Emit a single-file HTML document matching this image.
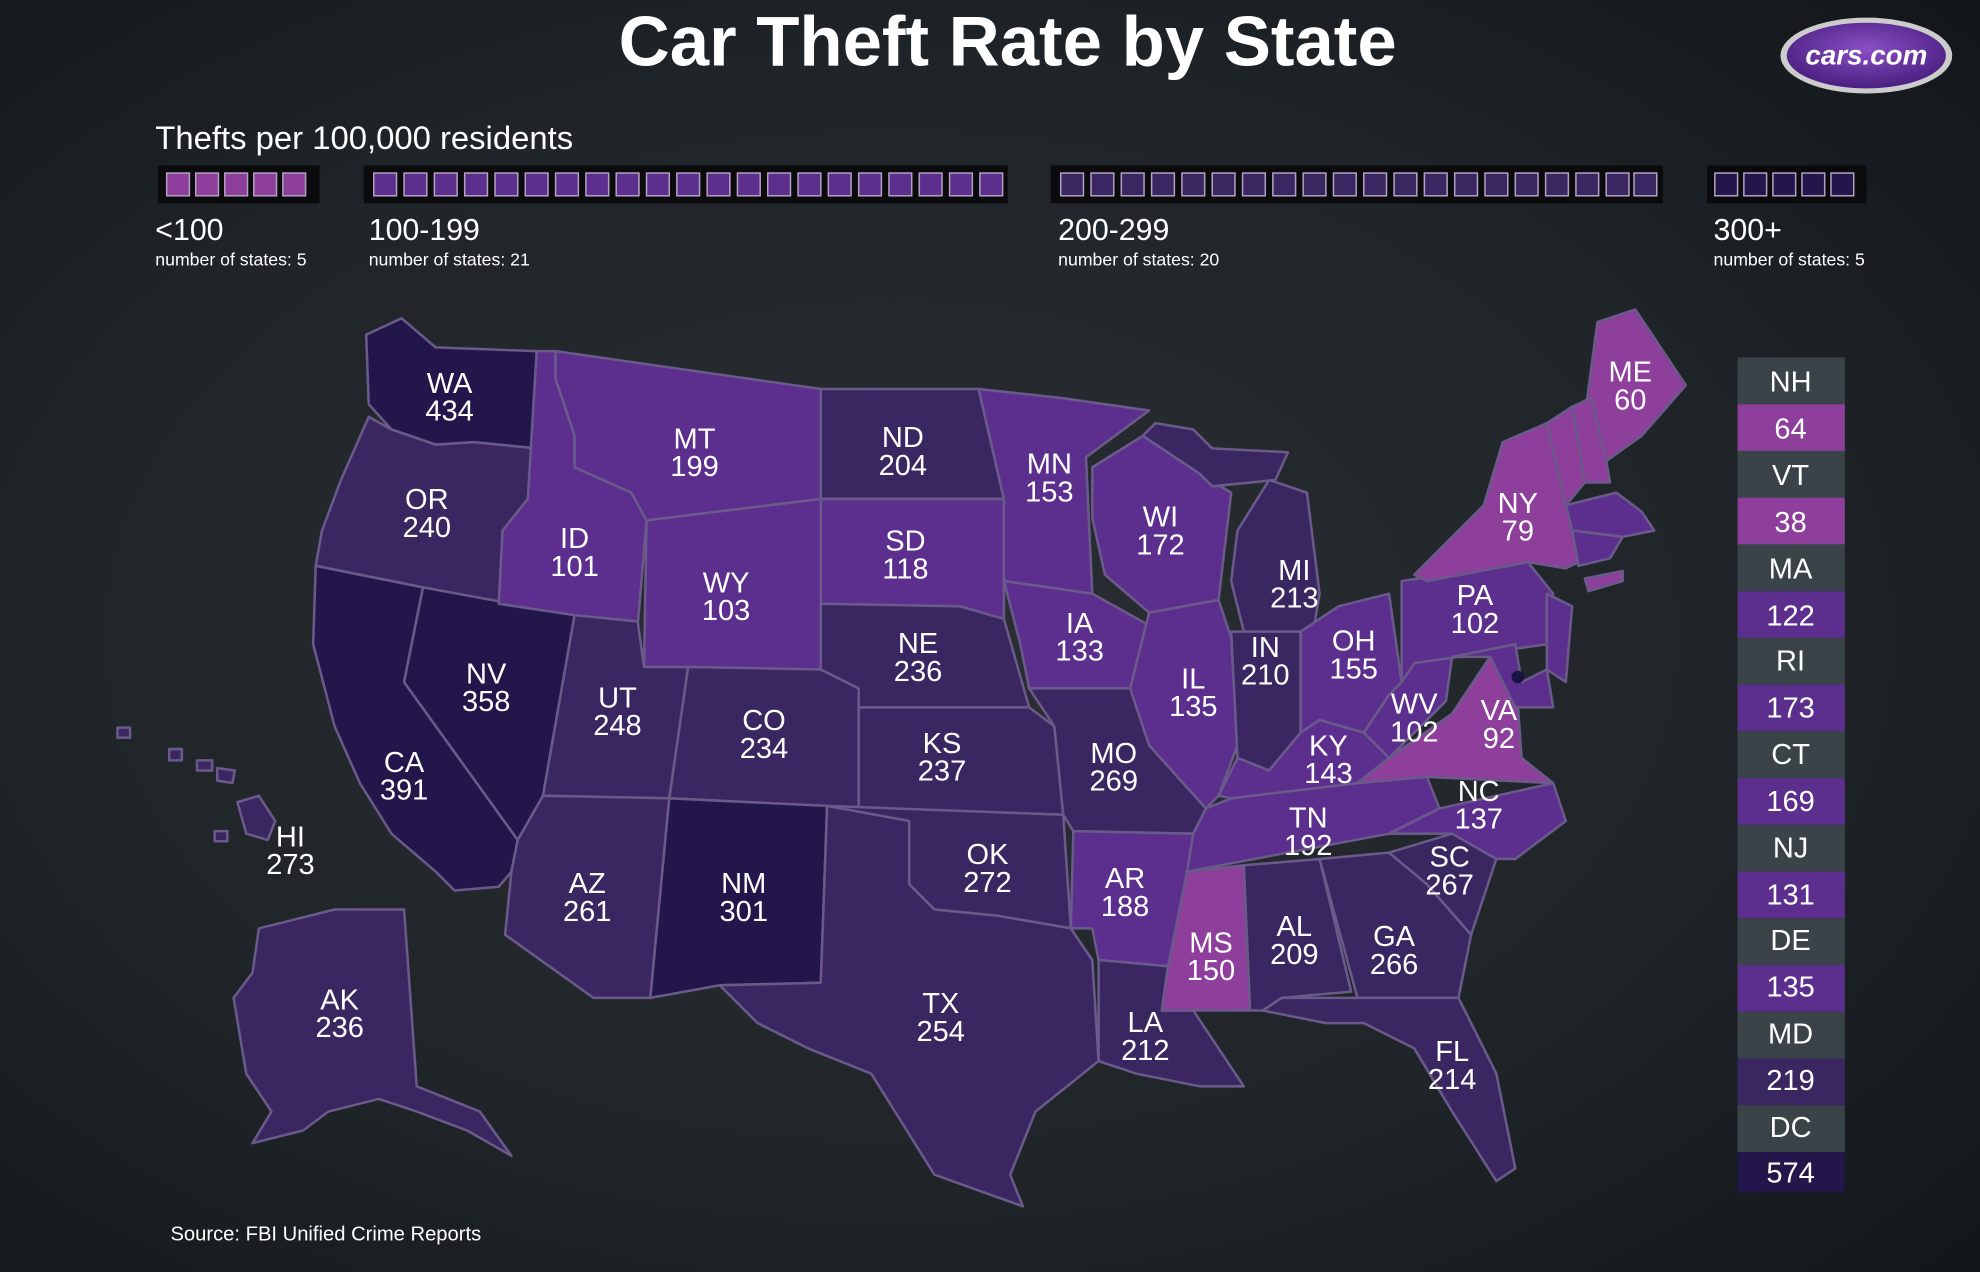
<!DOCTYPE html>
<html><head><meta charset="utf-8"><style>
html,body{margin:0;padding:0;background:#15191c;}
svg{display:block;}
text{font-family:"Liberation Sans",sans-serif;fill:#fff;}
</style></head><body>
<svg width="1980" height="1272" viewBox="0 0 1568 1007" preserveAspectRatio="none">
<defs>
<radialGradient id="bg" cx="0.45" cy="0.5" r="0.75">
<stop offset="0" stop-color="#2b2f35"/><stop offset="0.6" stop-color="#1f2428"/><stop offset="1" stop-color="#121619"/>
</radialGradient>
<radialGradient id="logo" cx="0.5" cy="0.4" r="0.6">
<stop offset="0" stop-color="#8a4fc4"/><stop offset="1" stop-color="#4a1f80"/>
</radialGradient>
</defs>
<rect width="1568" height="1007" fill="url(#bg)"/>
<text x="798" y="52" text-anchor="middle" font-size="56" font-weight="bold">Car Theft Rate by State</text>
<ellipse cx="1478" cy="44" rx="68" ry="30" fill="#ccc"/>
<ellipse cx="1478" cy="44" rx="63" ry="26" fill="url(#logo)"/>
<text x="1478" y="51" text-anchor="middle" font-size="22" font-weight="bold" font-style="italic">cars.com</text>
<text x="123" y="118" font-size="26">Thefts per 100,000 residents</text>
<g stroke="#b9a9c9" stroke-width="1.5">
<rect x="125" y="131" width="128" height="30" fill="#0b0b0e" stroke="none"/>
<rect x="288" y="131" width="510" height="30" fill="#0b0b0e" stroke="none"/>
<rect x="832" y="131" width="485" height="30" fill="#0b0b0e" stroke="none"/>
<rect x="1352" y="131" width="126" height="30" fill="#0b0b0e" stroke="none"/>
</g>
<g id="sq"></g>
<text x="123" y="190" font-size="24">&lt;100</text>
<text x="123" y="210" font-size="14">number of states: 5</text>
<text x="292" y="190" font-size="24">100-199</text>
<text x="292" y="210" font-size="14">number of states: 21</text>
<text x="838" y="190" font-size="24">200-299</text>
<text x="838" y="210" font-size="14">number of states: 20</text>
<text x="1357" y="190" font-size="24">300+</text>
<text x="1357" y="210" font-size="14">number of states: 5</text>

<g stroke="#6a5a8a" stroke-width="2" stroke-linejoin="round">
<!-- 300+ #22164a, 200-299 #3a2762, 100-199 #5c2f8e, <100 #8e3f9c -->
<polygon fill="#22164a" points="290,265 318,252 345,275 425,278 425,355 375,350 345,352 310,340 292,320"/>
<polygon fill="#3a2762" points="292,330 310,340 345,352 375,350 425,355 418,395 398,420 395,478 335,465 250,448 255,420 270,380"/>
<polygon fill="#22164a" points="250,448 335,465 320,540 410,665 405,690 395,702 360,705 345,690 310,660 285,620 265,575 248,510"/>
<polygon fill="#22164a" points="335,465 455,487 430,630 410,665 320,540"/>
<polygon fill="#5c2f8e" points="425,278 440,278 440,300 455,345 455,370 500,390 512,412 505,495 455,487 395,478 398,420 418,395"/>
<polygon fill="#5c2f8e" points="440,278 650,308 650,395 512,412 500,390 455,370 455,345 440,300"/>
<polygon fill="#5c2f8e" points="512,412 650,395 650,530 510,528"/>
<polygon fill="#3a2762" points="455,487 505,492 510,528 545,528 530,632 430,630"/>
<polygon fill="#3a2762" points="545,528 650,530 680,545 680,640 530,632"/>
<polygon fill="#3a2762" points="430,630 530,632 515,790 470,790 400,740 405,690 410,665"/>
<polygon fill="#22164a" points="530,632 655,638 650,778 570,780 515,790"/>
<polygon fill="#3a2762" points="650,308 775,308 795,395 650,395"/>
<polygon fill="#5c2f8e" points="650,395 795,395 795,490 760,480 650,478"/>
<polygon fill="#3a2762" points="650,478 760,480 795,490 815,560 680,560 680,545 650,530"/>
<polygon fill="#3a2762" points="680,560 815,560 835,575 842,645 680,640"/>
<polygon fill="#3a2762" points="655,638 842,645 848,735 790,725 740,720 720,700 720,650"/>
<polygon fill="#3a2762" points="650,778 655,638 720,650 720,700 740,720 790,725 848,735 865,760 870,840 820,880 800,930 810,955 740,930 690,850 640,830 600,810 570,780"/>
<polygon fill="#5c2f8e" points="775,308 840,315 910,325 860,362 865,470 795,460 795,395"/>
<polygon fill="#5c2f8e" points="795,460 865,470 910,495 895,545 815,545 808,510"/>
<polygon fill="#3a2762" points="815,545 895,545 910,590 955,640 945,660 850,658 842,645 835,575"/>
<polygon fill="#5c2f8e" points="850,658 945,660 940,700 925,765 870,760 865,735 848,735"/>
<polygon fill="#3a2762" points="870,760 925,765 920,800 945,800 985,860 950,860 900,850 870,840"/>
<polygon fill="#5c2f8e" points="865,370 905,345 950,375 975,390 965,475 910,485 875,455 865,410"/>
<polygon fill="#5c2f8e" points="910,485 965,475 975,505 980,590 965,630 955,640 910,590 895,545"/>
<polygon fill="#3a2762" points="905,345 915,335 945,340 960,355 1020,358 1010,380 960,385 950,375"/>
<polygon fill="#3a2762" points="980,420 1005,380 1035,390 1045,470 1040,500 985,500 975,460"/>
<polygon fill="#3a2762" points="975,500 1030,500 1030,580 1005,610 980,600"/>
<polygon fill="#5c2f8e" points="1030,500 1060,480 1100,470 1110,540 1080,580 1045,570 1030,580"/>
<polygon fill="#5c2f8e" points="965,630 980,600 1005,610 1030,580 1045,570 1080,580 1100,600 1075,620 1040,625 975,632"/>
<polygon fill="#5c2f8e" points="945,660 955,640 975,632 1075,620 1130,615 1140,640 1100,660 940,690"/>
<polygon fill="#8e3f9c" points="940,690 985,685 990,800 945,800 920,800 925,765"/>
<polygon fill="#3a2762" points="985,685 1045,680 1070,785 1015,790 1000,800 990,800"/>
<polygon fill="#3a2762" points="1045,680 1100,675 1130,700 1165,740 1155,790 1075,790"/>
<polygon fill="#3a2762" points="1000,800 1015,790 1075,790 1155,790 1185,850 1200,925 1185,935 1150,880 1120,830 1080,810 1050,810"/>
<polygon fill="#3a2762" points="1100,675 1150,660 1185,680 1165,740 1130,700"/>
<polygon fill="#5c2f8e" points="1100,660 1140,640 1230,620 1240,650 1200,680 1185,680 1150,660"/>
<polygon fill="#8e3f9c" points="1075,620 1100,600 1150,565 1180,520 1200,530 1205,600 1230,620 1130,615"/>
<polygon fill="#5c2f8e" points="1080,580 1100,550 1110,540 1120,520 1150,520 1145,555 1100,600"/>
<polygon fill="#5c2f8e" points="1110,460 1210,445 1230,470 1225,510 1120,525 1110,540"/>
<polygon fill="#8e3f9c" points="1120,455 1175,400 1190,350 1225,335 1240,400 1245,420 1250,445 1240,450 1210,445 1130,460"/>
<polygon fill="#8e3f9c" points="1265,255 1295,245 1335,305 1300,345 1272,365 1255,330"/>
<polygon fill="#8e3f9c" points="1225,335 1245,322 1255,382 1240,400"/>
<polygon fill="#8e3f9c" points="1245,322 1260,315 1272,365 1275,382 1255,382"/>
<polygon fill="#5c2f8e" points="1240,400 1280,390 1300,405 1310,420 1285,425 1245,420"/>
<polygon fill="#5c2f8e" points="1245,420 1285,425 1275,442 1250,448"/>
<polygon fill="#8e3f9c" points="1255,458 1285,452 1285,460 1258,468"/>
<polygon fill="#5c2f8e" points="1225,470 1245,480 1240,540 1225,530"/>
<polygon fill="#5c2f8e" points="1150,520 1200,510 1205,540 1225,530 1230,560 1200,560 1180,520"/>
<polygon fill="#3a2762" points="205,735 265,720 320,720 330,860 380,880 405,915 370,895 330,880 300,870 260,880 240,895 200,905 215,880 195,850 185,790 200,770"/>
<polygon fill="#3a2762" points="188,635 205,630 218,650 212,665 195,660"/>
<polygon fill="#3a2762" points="93,576 103,576 103,584 93,584"/>
<polygon fill="#3a2762" points="134,593 144,593 144,602 134,602"/>
<polygon fill="#3a2762" points="156,602 168,602 168,610 156,610"/>
<polygon fill="#3a2762" points="172,608 186,610 184,620 172,618"/>
<polygon fill="#3a2762" points="170,658 180,658 180,666 170,666"/>
</g>
<circle cx="1202" cy="536" r="5" fill="#1a1240"/>

<g font-size="23" text-anchor="middle">
<text x="356" y="311">WA</text><text x="356" y="333">434</text>
<text x="338" y="403">OR</text><text x="338" y="425">240</text>
<text x="320" y="611">CA</text><text x="320" y="633">391</text>
<text x="385" y="541">NV</text><text x="385" y="563">358</text>
<text x="455" y="434">ID</text><text x="455" y="456">101</text>
<text x="550" y="355">MT</text><text x="550" y="377">199</text>
<text x="575" y="469">WY</text><text x="575" y="491">103</text>
<text x="489" y="560">UT</text><text x="489" y="582">248</text>
<text x="605" y="578">CO</text><text x="605" y="600">234</text>
<text x="465" y="707">AZ</text><text x="465" y="729">261</text>
<text x="589" y="707">NM</text><text x="589" y="729">301</text>
<text x="715" y="354">ND</text><text x="715" y="376">204</text>
<text x="717" y="436">SD</text><text x="717" y="458">118</text>
<text x="727" y="517">NE</text><text x="727" y="539">236</text>
<text x="746" y="596">KS</text><text x="746" y="618">237</text>
<text x="782" y="684">OK</text><text x="782" y="706">272</text>
<text x="745" y="802">TX</text><text x="745" y="824">254</text>
<text x="831" y="375">MN</text><text x="831" y="397">153</text>
<text x="855" y="501">IA</text><text x="855" y="523">133</text>
<text x="882" y="604">MO</text><text x="882" y="626">269</text>
<text x="891" y="703">AR</text><text x="891" y="725">188</text>
<text x="907" y="817">LA</text><text x="907" y="839">212</text>
<text x="919" y="417">WI</text><text x="919" y="439">172</text>
<text x="945" y="545">IL</text><text x="945" y="567">135</text>
<text x="1025" y="459">MI</text><text x="1025" y="481">213</text>
<text x="1002" y="520">IN</text><text x="1002" y="542">210</text>
<text x="1072" y="515">OH</text><text x="1072" y="537">155</text>
<text x="1052" y="598">KY</text><text x="1052" y="620">143</text>
<text x="1036" y="655">TN</text><text x="1036" y="677">192</text>
<text x="959" y="754">MS</text><text x="959" y="776">150</text>
<text x="1025" y="741">AL</text><text x="1025" y="763">209</text>
<text x="1104" y="749">GA</text><text x="1104" y="771">266</text>
<text x="1150" y="840">FL</text><text x="1150" y="862">214</text>
<text x="1148" y="686">SC</text><text x="1148" y="708">267</text>
<text x="1171" y="634">NC</text><text x="1171" y="656">137</text>
<text x="1187" y="570">VA</text><text x="1187" y="592">92</text>
<text x="1120" y="565">WV</text><text x="1120" y="587">102</text>
<text x="1168" y="479">PA</text><text x="1168" y="501">102</text>
<text x="1202" y="406">NY</text><text x="1202" y="428">79</text>
<text x="1291" y="302">ME</text><text x="1291" y="324">60</text>
<text x="269" y="799">AK</text><text x="269" y="821">236</text>
<text x="230" y="670">HI</text><text x="230" y="692">273</text>
</g>

<g font-size="23" text-anchor="middle">
<rect x="1376" y="283" width="85" height="37" fill="#3a4448"/><text x="1418" y="310">NH</text>
<rect x="1376" y="320" width="85" height="37" fill="#8e3f9c"/><text x="1418" y="347">64</text>
<rect x="1376" y="357" width="85" height="37" fill="#3a4448"/><text x="1418" y="384">VT</text>
<rect x="1376" y="394" width="85" height="37" fill="#8e3f9c"/><text x="1418" y="421">38</text>
<rect x="1376" y="431" width="85" height="37" fill="#3a4448"/><text x="1418" y="458">MA</text>
<rect x="1376" y="468" width="85" height="37" fill="#5c2f8e"/><text x="1418" y="495">122</text>
<rect x="1376" y="505" width="85" height="37" fill="#3a4448"/><text x="1418" y="531">RI</text>
<rect x="1376" y="542" width="85" height="37" fill="#5c2f8e"/><text x="1418" y="568">173</text>
<rect x="1376" y="579" width="85" height="37" fill="#3a4448"/><text x="1418" y="605">CT</text>
<rect x="1376" y="616" width="85" height="37" fill="#5c2f8e"/><text x="1418" y="642">169</text>
<rect x="1376" y="653" width="85" height="37" fill="#3a4448"/><text x="1418" y="679">NJ</text>
<rect x="1376" y="690" width="85" height="37" fill="#5c2f8e"/><text x="1418" y="716">131</text>
<rect x="1376" y="727" width="85" height="37" fill="#3a4448"/><text x="1418" y="752">DE</text>
<rect x="1376" y="764" width="85" height="37" fill="#5c2f8e"/><text x="1418" y="789">135</text>
<rect x="1376" y="801" width="85" height="37" fill="#3a4448"/><text x="1418" y="826">MD</text>
<rect x="1376" y="838" width="85" height="37" fill="#3a2762"/><text x="1418" y="863">219</text>
<rect x="1376" y="875" width="85" height="37" fill="#3a4448"/><text x="1418" y="900">DC</text>
<rect x="1376" y="912" width="85" height="32" fill="#22164a"/><text x="1418" y="936">574</text>
</g>
<text x="135" y="982" font-size="16">Source: FBI Unified Crime Reports</text>

<g stroke="#b0a0c0" stroke-width="1.2">
<g fill="#8e3f9c">
<rect x="132" y="137" width="18" height="18"/><rect x="155" y="137" width="18" height="18"/><rect x="178" y="137" width="18" height="18"/><rect x="201" y="137" width="18" height="18"/><rect x="224" y="137" width="18" height="18"/>
</g>
<g fill="#5c2f8e">
<rect x="296" y="137" width="18" height="18"/><rect x="320" y="137" width="18" height="18"/><rect x="344" y="137" width="18" height="18"/><rect x="368" y="137" width="18" height="18"/><rect x="392" y="137" width="18" height="18"/><rect x="416" y="137" width="18" height="18"/><rect x="440" y="137" width="18" height="18"/><rect x="464" y="137" width="18" height="18"/><rect x="488" y="137" width="18" height="18"/><rect x="512" y="137" width="18" height="18"/><rect x="536" y="137" width="18" height="18"/><rect x="560" y="137" width="18" height="18"/><rect x="584" y="137" width="18" height="18"/><rect x="608" y="137" width="18" height="18"/><rect x="632" y="137" width="18" height="18"/><rect x="656" y="137" width="18" height="18"/><rect x="680" y="137" width="18" height="18"/><rect x="704" y="137" width="18" height="18"/><rect x="728" y="137" width="18" height="18"/><rect x="752" y="137" width="18" height="18"/><rect x="776" y="137" width="18" height="18"/>
</g>
<g fill="#3a2762">
<rect x="840" y="137" width="18" height="18"/><rect x="864" y="137" width="18" height="18"/><rect x="888" y="137" width="18" height="18"/><rect x="912" y="137" width="18" height="18"/><rect x="936" y="137" width="18" height="18"/><rect x="960" y="137" width="18" height="18"/><rect x="984" y="137" width="18" height="18"/><rect x="1008" y="137" width="18" height="18"/><rect x="1032" y="137" width="18" height="18"/><rect x="1056" y="137" width="18" height="18"/><rect x="1080" y="137" width="18" height="18"/><rect x="1104" y="137" width="18" height="18"/><rect x="1128" y="137" width="18" height="18"/><rect x="1152" y="137" width="18" height="18"/><rect x="1176" y="137" width="18" height="18"/><rect x="1200" y="137" width="18" height="18"/><rect x="1224" y="137" width="18" height="18"/><rect x="1248" y="137" width="18" height="18"/><rect x="1272" y="137" width="18" height="18"/><rect x="1294" y="137" width="18" height="18"/>
</g>
<g fill="#22164a">
<rect x="1358" y="137" width="18" height="18"/><rect x="1381" y="137" width="18" height="18"/><rect x="1404" y="137" width="18" height="18"/><rect x="1427" y="137" width="18" height="18"/><rect x="1450" y="137" width="18" height="18"/>
</g>
</g>
</svg>
</body></html>
